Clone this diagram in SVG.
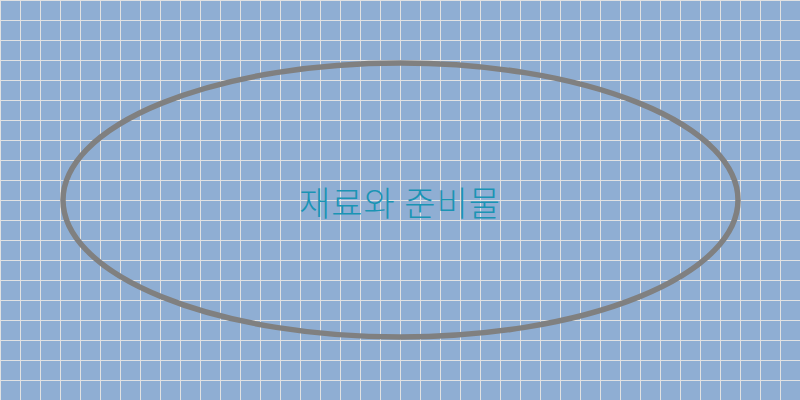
<svg xmlns="http://www.w3.org/2000/svg" width="800" height="400" viewBox="0 0 800 400">
  <defs>
    <pattern id="grid" x="0" y="0" width="20" height="20" patternUnits="userSpaceOnUse">
      <rect width="20" height="20" fill="#8faed3"/>
      <path d="M0 0.5 H20 M0.5 0 V20" stroke="#e2e2e2" stroke-width="1" fill="none"/>
    </pattern>
  </defs>
  <style>
    .node-shape { fill: none; stroke: #808080; stroke-width: 5.5; }
    .node-label { font-family: "Noto Sans CJK KR", "Noto Sans", sans-serif; font-size: 34px; font-weight: 300; letter-spacing: 1px; fill: #1a94b4; text-anchor: middle; }
  </style>
  <rect id="background" width="800" height="400" fill="url(#grid)"/>
  <g id="connectors"></g>
  <g id="node-materials">
    <ellipse class="node-shape" cx="400.5" cy="200" rx="337.5" ry="137"/>
    <text class="node-label" x="400" y="216">재료와 준비물</text>
  </g>
</svg>
